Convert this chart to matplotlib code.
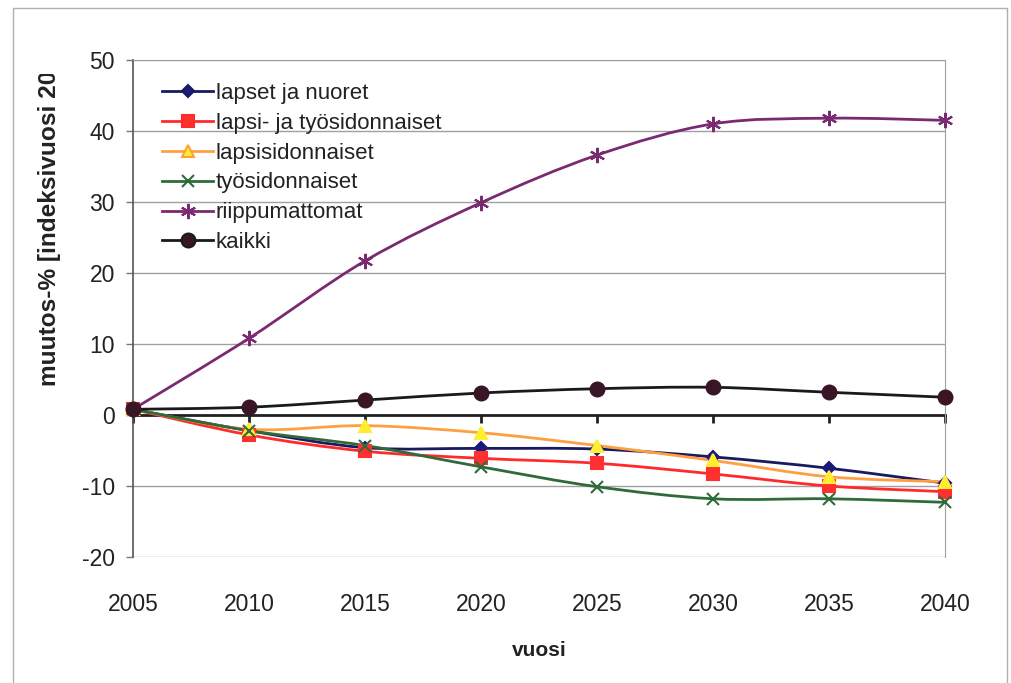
import numpy as np
import matplotlib.pyplot as plt
from matplotlib.path import Path
from matplotlib.patches import PathPatch, Rectangle
from matplotlib.transforms import Bbox, TransformedBbox

plt.rcParams['font.family'] = ['Liberation Sans', 'DejaVu Sans']
plt.rcParams['axes.unicode_minus'] = False

# Ennuste: muutos-% vuodesta 2005
years = [2005, 2010, 2015, 2020, 2025, 2030, 2035, 2040]
lapset_nuoret = [0.8, -2.2, -4.6, -4.7, -4.8, -5.9, -7.5, -9.6]
lapsi_tyo = [0.8, -2.8, -5.1, -6.1, -6.8, -8.3, -10.0, -10.8]
lapsisidonnaiset = [0.8, -2.0, -1.5, -2.5, -4.3, -6.4, -8.7, -9.4]
tyosidonnaiset = [0.8, -2.2, -4.3, -7.3, -10.1, -11.8, -11.8, -12.3]
riippumattomat = [0.8, 10.8, 21.7, 29.9, 36.6, 41.0, 41.8, 41.5]
kaikki = [0.8, 1.1, 2.1, 3.1, 3.7, 3.9, 3.2, 2.5]

series = [
    ('lapset ja nuoret', lapset_nuoret, '#1a1a5e', 'D', '#1a1a7a', 6),
    ('lapsi- ja työsidonnaiset', lapsi_tyo, '#ff2a2a', 's', '#ff3030', 8),
    ('lapsisidonnaiset', lapsisidonnaiset, '#ffa040', '^', '#ffee30', 8),
    ('työsidonnaiset', tyosidonnaiset, '#2f6b3a', 'x', '#2f6b3a', 9),
    ('riippumattomat', riippumattomat, '#7a2a70', (6, 2, 0), '#7a2a70', 11),
    ('kaikki', kaikki, '#1a1a1a', 'o', '#3a1525', 10),
]


def smooth_path(x, y, t=1 / 6):
    # Catmull-Rom style Bezier segments, like Excel's smoothed lines
    x = np.asarray(x, float)
    y = np.asarray(y, float)
    pts = np.column_stack([x, y])
    verts = [pts[0]]
    codes = [Path.MOVETO]
    n = len(pts)
    for i in range(n - 1):
        p0 = pts[i - 1] if i > 0 else pts[i]
        p1 = pts[i]
        p2 = pts[i + 1]
        p3 = pts[i + 2] if i + 2 < n else pts[i + 1]
        c1 = p1 + (p2 - p0) * t
        c2 = p2 - (p3 - p1) * t
        verts += [c1, c2, p2]
        codes += [Path.CURVE4] * 3
    return Path(verts, codes)


fig = plt.figure(figsize=(10.12, 6.83), dpi=100)
fig.patch.set_facecolor('white')
fig.patches.append(Rectangle((13 / 1012, -0.01), (1007 - 13) / 1012, 1 - 8 / 683 + 0.01,
                             transform=fig.transFigure, fill=False,
                             edgecolor='#b0b0b0', linewidth=1))

ax = fig.add_axes([133 / 1012, 1 - 557 / 683, 812 / 1012, 497 / 683])
ax.set_xlim(2005, 2040)
ax.set_ylim(-20, 50)

# gridlines and plot frame
for v in range(-20, 51, 10):
    ax.axhline(v, color='#a0a0a0', linewidth=1, zorder=1)
for side in ['top', 'right']:
    ax.spines[side].set_color('#a0a0a0')
ax.spines['left'].set_color('#555555')
ax.spines['left'].set_linewidth(1.2)

# category axis crosses at zero
ax.spines['bottom'].set_position(('data', 0))
ax.spines['bottom'].set_color('#222222')
ax.spines['bottom'].set_linewidth(2)
ax.spines['bottom'].set_zorder(2)
ax.set_xticks(years)
ax.tick_params(axis='x', direction='out', length=6, width=2, color='#222222',
               labelbottom=False)
ax.set_yticks(range(-20, 51, 10))
ax.tick_params(axis='y', direction='out', length=5, width=1, color='#777777',
               pad=8, labelsize=16.5, labelcolor='#222222')

sec = ax.secondary_xaxis('bottom')
sec.set_xticks(years)
sec.set_xticklabels([str(y) for y in years])
sec.tick_params(length=0, pad=26, labelsize=16.5, labelcolor='#222222')
sec.spines['bottom'].set_visible(False)

for name, vals, lc, mk, mc, ms in series:
    ax.add_patch(PathPatch(smooth_path(years, vals), fill=False, edgecolor=lc,
                           linewidth=2, zorder=3, capstyle='round'))
    ax.plot(years, vals, linestyle='none', marker=mk, markersize=ms,
            markerfacecolor=mc, markeredgecolor=mc if mk not in ('x', (6, 2, 0)) else lc,
            markeredgewidth=1.5, zorder=4, clip_on=False)
    ax.plot([], [], color=lc, linewidth=2, marker=mk, markersize=ms,
            markerfacecolor=mc, markeredgecolor=lc, markeredgewidth=1.5, label=name)

leg = ax.legend(loc='upper left', bbox_to_anchor=(0.025, 0.972), frameon=False,
                fontsize=16, handlelength=2.3, handletextpad=0.1,
                labelspacing=0.4, borderaxespad=0)
for txt in leg.get_texts():
    txt.set_color('#222222')

fig.text(539 / 1012, 1 - 650 / 683, 'vuosi', ha='center', va='center',
         fontsize=15, fontweight='bold', color='#222222')

ylab = fig.text(50 / 1012, 1 - 386 / 683, 'muutos-% [indeksivuosi 2005]',
                rotation=90, ha='center', va='bottom', fontsize=17.6,
                fontweight='bold', color='#222222')
ylab.set_clip_box(TransformedBbox(Bbox([[0, 0], [1, 1 - 74 / 683]]), fig.transFigure))
ylab.set_clip_on(True)

fig.savefig('out.png', dpi=100)
